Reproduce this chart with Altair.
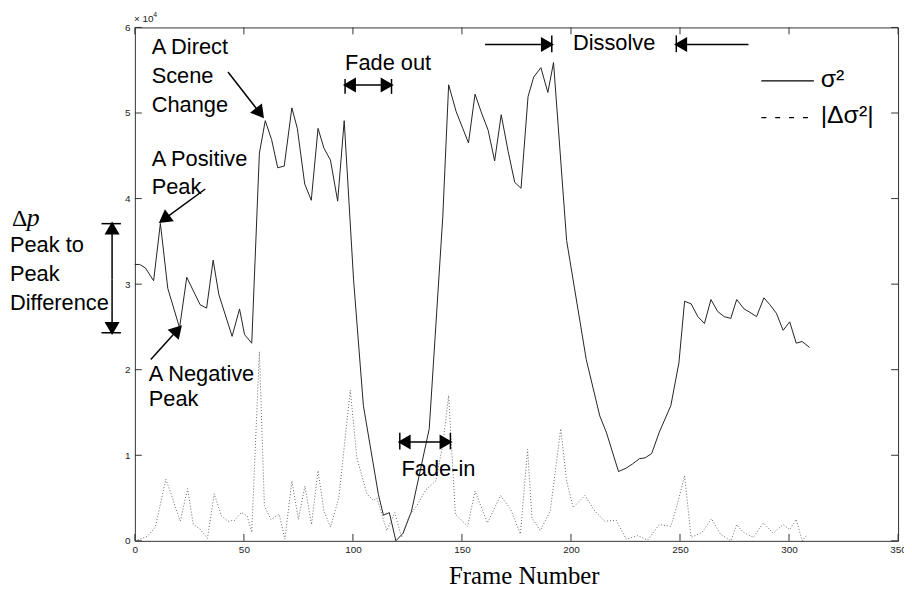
import math
import altair as alt
import pandas as pd

# ---------------- data (values in units of 10^4) ----------------
frames_sigma = [0, 2.2, 4.8, 8.6, 11.7, 15.1, 20.5, 23.8, 29.9, 32.9, 35.9, 38.5, 44.6, 48, 50.3, 53.6,
                57.1, 59.8, 62.7, 65.5, 68.5, 72, 74.5, 77.9, 80.9, 84, 86.7, 89.7, 93, 96,
                100.3, 104.8, 111.7, 114, 116.7, 119.7, 123, 126.8, 135, 141.2, 143.9, 147.3,
                153, 156, 159, 162, 165, 168, 171.2, 174.2, 177.1, 180.3, 182.9, 186.2, 189.4, 192,
                198, 207, 213.2, 216.2, 221.8, 225.3, 228.3, 231.4, 234, 237, 240.5, 245.8, 249.5,
                252.1, 255.1, 258.2, 261.2, 264.2, 267.3, 270.3, 273.3, 276, 279.4, 282.1, 285.1,
                288.5, 291.2, 294.2, 297.3, 300.3, 303.3, 306, 309.4]
sigma2 = [3.23, 3.23, 3.19, 3.04, 3.71, 2.95, 2.49, 3.08, 2.76, 2.72, 3.28, 2.88, 2.39, 2.71, 2.41, 2.31,
          4.53, 4.91, 4.69, 4.36, 4.38, 5.06, 4.82, 4.17, 3.98, 4.82, 4.59, 4.45, 3.97, 4.91,
          3.05, 1.58, 0.54, 0.30, 0.33, 0.0, 0.09, 0.34, 1.31, 3.78, 5.33, 5.02,
          4.65, 5.22, 5.00, 4.80, 4.44, 4.98, 4.55, 4.19, 4.12, 5.19, 5.42, 5.53, 5.24, 5.59,
          3.51, 2.12, 1.46, 1.27, 0.81, 0.85, 0.90, 0.96, 0.97, 1.02, 1.27, 1.58, 2.08,
          2.80, 2.77, 2.62, 2.54, 2.82, 2.68, 2.62, 2.60, 2.82, 2.71, 2.67, 2.62,
          2.84, 2.76, 2.66, 2.46, 2.56, 2.31, 2.33, 2.26]

frames_delta = [0, 5.6, 9.4, 14.2, 16.2, 20.8, 24.2, 26.8, 29.8, 33.3, 36.4, 39.7, 42.7, 45.8, 48.8,
                51.5, 53.6, 57.1, 59.4, 62.4, 66.2, 68.8, 72, 75, 78, 81, 84, 86.7, 89.7, 93.5,
                98.8, 101.8, 106.4, 109.4, 111, 115.5, 119.2, 122.3, 126, 129, 133.6, 138, 141.2,
                143.9, 147, 152.6, 156, 161.7, 167.7, 172.3, 176.8, 180.1, 182.1, 185.9, 190.5,
                195.3, 198, 201, 206.4, 210.9, 215.5, 220.8, 225.3, 230.6, 235.2, 240.5, 245.8,
                248.8, 252.1, 255.1, 260.2, 264.4, 268.5, 273.3, 276, 279, 283.6, 288.2, 292.7,
                297.3, 300.3, 303.3, 306, 308]
delta_sigma2 = [0.0, 0.05, 0.16, 0.72, 0.58, 0.23, 0.61, 0.19, 0.14, 0.03, 0.55, 0.29, 0.23, 0.24, 0.33,
                0.29, 0.10, 2.21, 0.41, 0.25, 0.31, 0.02, 0.70, 0.25, 0.64, 0.19, 0.82, 0.35, 0.16, 0.50,
                1.76, 0.97, 0.55, 0.47, 0.50, 0.12, 0.33, 0.04, 0.30, 0.40, 0.60, 0.70, 1.12,
                1.70, 0.31, 0.17, 0.58, 0.21, 0.53, 0.37, 0.08, 1.07, 0.27, 0.12, 0.35,
                1.31, 0.70, 0.39, 0.53, 0.35, 0.23, 0.24, 0.02, 0.06, 0.01, 0.19, 0.17,
                0.43, 0.76, 0.04, 0.10, 0.26, 0.08, 0.0, 0.19, 0.10, 0.04, 0.21, 0.09,
                0.19, 0.13, 0.25, 0.0, 0.06]

x_ticks = [0, 50, 100, 150, 200, 250, 300, 350]
y_ticks = [0, 1, 2, 3, 4, 5, 6]

# annotation texts (positions in data units: frame, value)
label_text = ["A Direct", "Scene", "Change", "A Positive", "Peak", "Fade out", "Dissolve",
              "Fade-in", "A Negative", "Peak", "Peak to", "Peak", "Difference"]
label_f = [7.7, 7.7, 7.7, 7.7, 7.7, 96.4, 200.9, 122.3, 6.4, 6.4, -57.3, -57.3, -57.3]
label_v = [5.687, 5.352, 5.016, 4.379, 4.054, 5.502, 5.734, 0.753, 1.865, 1.575, 3.371, 3.035, 2.699]

# single arrows: tail -> tip
arrow_tail_f = [42.7, 32.3, 7.3, -10.45, -10.45, 160.6, 281.4]
arrow_tail_v = [5.479, 4.112, 2.120, 3.054, 3.054, 5.80, 5.80]
arrow_tip_f = [58.6, 11.8, 20.9, -10.45, -10.45, 191.2, 248.3]
arrow_tip_v = [4.958, 3.730, 2.502, 3.707, 2.432, 5.80, 5.80]

# double arrows (fade out / fade-in)
darrow_f1 = [96.4, 121.5]
darrow_f2 = [117.7, 144.7]
darrow_v = [5.328, 1.155]

# end bars: vertical bars (f, v1, v2) and horizontal bars (v, f1, f2)
vbar_f = [96.4, 117.7, 121.5, 144.7, 191.2, 248.3]
vbar_v1 = [5.398, 5.398, 1.263, 1.263, 5.907, 5.907]
vbar_v2 = [5.224, 5.224, 1.069, 1.069, 5.711, 5.711]
hbar_v = [3.707, 2.432]
hbar_f1 = [-15.3, -15.3]
hbar_f2 = [-6.4, -6.4]

legend_names = ["σ²", "|Δσ²|"]
legend_f1, legend_f2, legend_tf = 287.3, 311.4, 314.5
legend_line_v = [5.375, 4.946]
legend_text_v = [5.30, 4.888]

# ---------------- layout ----------------
W, H = 770, 518
XMAX, YMAX = 350, 6
SX, SY = W / XMAX, H / YMAX
HEAD_SIZE = 230
SANS = "Liberation Sans, Arial, sans-serif"

xs = alt.Scale(domain=[0, XMAX], nice=False, zero=False)
ys = alt.Scale(domain=[0, YMAX], nice=False, zero=False)
x_axis = alt.Axis(values=x_ticks, title=None, ticks=False, domain=False, grid=False,
                  labelPadding=4, labelFontSize=10, labelFont=SANS, labelColor="#222",
                  labelFlush=False)
y_axis = alt.Axis(values=y_ticks, title=None, ticks=False, domain=False, grid=False,
                  labelPadding=5, labelFontSize=10, labelFont=SANS, labelColor="#222",
                  labelFlush=False)


def X(field="f"):
    return alt.X(f"{field}:Q", scale=xs, axis=x_axis)


def Y(field="v"):
    return alt.Y(f"{field}:Q", scale=ys, axis=y_axis)


def head(tail_f, tail_v, tip_f, tip_v):
    dx = (tip_f - tail_f) * SX
    dy = -(tip_v - tail_v) * SY
    L = math.hypot(dx, dy)
    ux, uy = dx / L, dy / L
    d = 0.433 * math.sqrt(HEAD_SIZE)
    cf = tip_f - ux * d / SX
    cv = tip_v + uy * d / SY
    ang = math.degrees(math.atan2(ux, -uy)) % 360
    return cf, cv, ang


shafts, heads = [], []
for tf, tv, pf, pv in zip(arrow_tail_f, arrow_tail_v, arrow_tip_f, arrow_tip_v):
    cf, cv, ang = head(tf, tv, pf, pv)
    shafts.append({"f": tf, "v": tv, "f2": cf, "v2": cv})
    heads.append({"f": cf, "v": cv, "ang": ang})
for f1, f2, v in zip(darrow_f1, darrow_f2, darrow_v):
    shafts.append({"f": f1, "v": v, "f2": f2, "v2": v})
    for a, b in ((f2, f1), (f1, f2)):
        cf, cv, ang = head(a, v, b, v)
        heads.append({"f": cf, "v": cv, "ang": ang})
for f, v1, v2 in zip(vbar_f, vbar_v1, vbar_v2):
    shafts.append({"f": f, "v": v1, "f2": f, "v2": v2})
for v, f1, f2 in zip(hbar_v, hbar_f1, hbar_f2):
    shafts.append({"f": f1, "v": v, "f2": f2, "v2": v})

df_sigma = pd.DataFrame({"f": frames_sigma, "v": sigma2})
df_delta = pd.DataFrame({"f": frames_delta, "v": delta_sigma2})
df_labels = pd.DataFrame({"f": label_f, "v": label_v, "t": label_text})
df_shafts = pd.DataFrame(shafts)
df_heads = pd.DataFrame(heads)

# ---------------- layers ----------------
line_sigma = alt.Chart(df_sigma).mark_line(color="#222", strokeWidth=1).encode(x=X(), y=Y())
line_delta = alt.Chart(df_delta).mark_line(color="#666", strokeWidth=1, strokeDash=[1, 2]).encode(
    x=X(), y=Y())

# inward ticks on all four sides
df_xt = pd.DataFrame({"f": x_ticks})
df_yt = pd.DataFrame({"v": y_ticks})
tick_style = dict(color="#333", strokeWidth=1)
ticks = [
    alt.Chart(df_xt).mark_rule(**tick_style).encode(x=X(), y=alt.value(H), y2=alt.value(H - 7)),
    alt.Chart(df_xt).mark_rule(**tick_style).encode(x=X(), y=alt.value(0), y2=alt.value(7)),
    alt.Chart(df_yt).mark_rule(**tick_style).encode(y=Y(), x=alt.value(0), x2=alt.value(7)),
    alt.Chart(df_yt).mark_rule(**tick_style).encode(y=Y(), x=alt.value(W), x2=alt.value(W - 7)),
]

labels = alt.Chart(df_labels).mark_text(align="left", baseline="alphabetic", font=SANS,
                                        fontSize=22, color="black").encode(x=X(), y=Y(), text="t:N")

dp = alt.Chart(pd.DataFrame({"f": [-56.4], "v": [3.683], "t": ["Δ"]})).mark_text(
    align="left", baseline="alphabetic", font="Liberation Serif", fontSize=24, color="black"
).encode(x=X(), y=Y(), text="t:N")
dp2 = alt.Chart(pd.DataFrame({"f": [-49.6], "v": [3.683], "t": ["p"]})).mark_text(
    align="left", baseline="alphabetic", font="Liberation Serif", fontSize=26, fontStyle="italic",
    color="black").encode(x=X(), y=Y(), text="t:N")

shaft_layer = alt.Chart(df_shafts).mark_rule(color="black", strokeWidth=1.5).encode(
    x=X(), y=Y(), x2="f2:Q", y2="v2:Q")
head_layer = alt.Chart(df_heads).mark_point(shape="triangle", filled=True, color="black",
                                            opacity=1, size=HEAD_SIZE, strokeWidth=0).encode(
    x=X(), y=Y(), angle=alt.Angle("ang:Q", scale=None))

df_leg_line = pd.DataFrame({"f": [legend_f1, legend_f1], "f2": [legend_f2, legend_f2],
                            "v": legend_line_v, "t": legend_names})
leg_solid = alt.Chart(df_leg_line.iloc[[0]]).mark_rule(color="black", strokeWidth=1.2).encode(
    x=X(), x2="f2:Q", y=Y())
leg_dash = alt.Chart(df_leg_line.iloc[[1]]).mark_rule(color="black", strokeWidth=1.2,
                                                      strokeDash=[5, 9]).encode(
    x=X(), x2="f2:Q", y=Y())
leg_text = alt.Chart(pd.DataFrame({"f": [legend_tf, legend_tf], "v": legend_text_v,
                                   "t": legend_names})).mark_text(
    align="left", baseline="alphabetic", font=SANS, fontSize=25, color="black"
).encode(x=X(), y=Y(), text="t:N")

xtitle = alt.Chart(pd.DataFrame({"f": [178.6], "v": [-0.50], "t": ["Frame Number"]})).mark_text(
    align="center", baseline="alphabetic", font="Liberation Serif", fontSize=25, color="black"
).encode(x=X(), y=Y(), text="t:N")
exp1 = alt.Chart(pd.DataFrame({"f": [-0.4], "v": [6.058], "t": ["× 10"]})).mark_text(
    align="left", baseline="alphabetic", font=SANS, fontSize=10, color="#222"
).encode(x=X(), y=Y(), text="t:N")
exp2 = alt.Chart(pd.DataFrame({"f": [8.4], "v": [6.12], "t": ["4"]})).mark_text(
    align="left", baseline="alphabetic", font=SANS, fontSize=7, color="#222"
).encode(x=X(), y=Y(), text="t:N")

chart = alt.layer(
    line_sigma, line_delta, *ticks, labels, dp, dp2, shaft_layer, head_layer,
    leg_solid, leg_dash, leg_text, xtitle, exp1, exp2
).properties(
    width=W, height=H,
    padding={"left": 128, "top": 17, "right": 6, "bottom": 49},
    autosize=alt.AutoSizeParams(type="none"),
    background="white",
).configure_view(stroke="#333", strokeWidth=1)

chart.save("out.html", embed_options={"renderer": "svg", "actions": False})
